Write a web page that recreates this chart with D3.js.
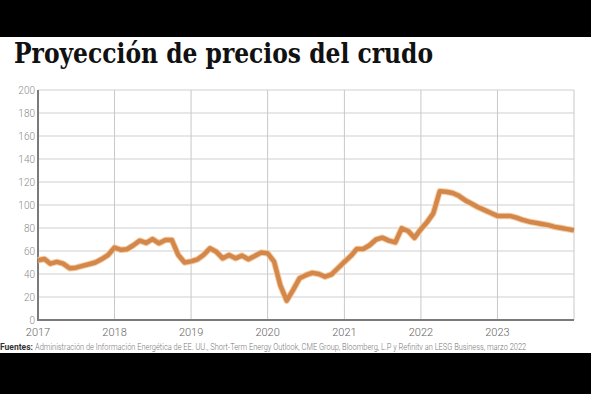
<!DOCTYPE html>
<html>
<head>
<meta charset="utf-8">
<script src="https://cdn.jsdelivr.net/npm/d3@7"></script>
<style>
  body { margin: 0; background: #000; }
  svg { display: block; }
</style>
</head>
<body>
<svg id="chart" width="591" height="394"></svg>
<script>

// monthly price, jan 2017 .. jan 2024 (USD / barril)
var startMonth = new Date(2017, 0, 1)
var prices = [
	52, 53, 49, 50.5, 49, 45, 45.5, 47, 48.5, 50, 53, 56.5,      // 2017
	63, 61, 61.5, 65, 69, 67, 70.4, 66.7, 69.6, 69.6, 56.5, 50,  // 2018
	51, 52.8, 56.5, 62.3, 59.4, 53.6, 56.5, 53.6, 56, 52.8, 55.7, 58.6, // 2019
	58, 50.7, 30.4, 16.8, 26, 36.2, 39, 41, 40, 37.7, 39.7, 45,   // 2020
	50.5, 55.7, 61.7, 61.7, 65, 70, 71.6, 69, 67.5, 79.7, 77.4, 71.5, // 2021
	79, 85.5, 92.7, 112, 111.5, 110.5, 108, 104, 101, 98, 95.5, 93,  // 2022
	90.5, 90.5, 90.5, 89, 87, 85.5, 84.5, 83.5, 82.5, 81, 80, 79,     // 2023
	78                                                               // 2024
]
var yTicks = [0, 20, 40, 60, 80, 100, 120, 140, 160, 180, 200]
var yearTicks = [2017, 2018, 2019, 2020, 2021, 2022, 2023]

var titleText = 'Proyección de precios del crudo'
var sourceLabel = 'Fuentes:'
var sourceText = 'Administración de Información Energética de EE. UU., Short-Term Energy Outlook, CME Group, Bloomberg, L.P y Refinitv an LESG Business, marzo 2022'

var svg = d3.select('#chart')

// white band between the black bars
svg.append('rect')
	.attr('x', 0).attr('y', 37)
	.attr('width', 591).attr('height', 316)
	.attr('fill', '#fff')

var plotLeft = 38, plotRight = 574, plotTop = 90, plotBottom = 320

var data = prices.map(function(v, i) {
	return { date: d3.timeMonth.offset(startMonth, i), value: v }
})

var x = d3.scaleTime()
	.domain([startMonth, new Date(2024, 0, 1)])
	.range([plotLeft, plotRight])

var y = d3.scaleLinear()
	.domain([0, 200])
	.range([plotBottom, plotTop])

// horizontal grid
svg.append('g')
	.selectAll('line')
	.data(yTicks)
	.enter()
	.append('line')
	.attr('x1', plotLeft).attr('x2', plotRight)
	.attr('y1', function(d) { return y(d) }).attr('y2', function(d) { return y(d) })
	.attr('stroke', '#cfcfcf')
	.attr('stroke-width', 1)

// vertical grid
svg.append('g')
	.selectAll('line')
	.data(yearTicks.slice(1).concat([2024]))
	.enter()
	.append('line')
	.attr('x1', function(d) { return x(new Date(d, 0, 1)) })
	.attr('x2', function(d) { return x(new Date(d, 0, 1)) })
	.attr('y1', plotTop).attr('y2', plotBottom)
	.attr('stroke', '#c8c8c8')
	.attr('stroke-width', 1)

// axes lines
svg.append('line')
	.attr('x1', plotLeft).attr('x2', plotLeft)
	.attr('y1', plotTop).attr('y2', plotBottom + 1)
	.attr('stroke', '#7a7a7a').attr('stroke-width', 2)

svg.append('line')
	.attr('x1', plotLeft - 1).attr('x2', plotRight)
	.attr('y1', plotBottom).attr('y2', plotBottom)
	.attr('stroke', '#7a7a7a').attr('stroke-width', 2)

// y labels
svg.append('g')
	.selectAll('text')
	.data(yTicks)
	.enter()
	.append('text')
	.attr('x', 35)
	.attr('y', function(d) { return y(d) + 3.5 })
	.attr('text-anchor', 'end')
	.attr('font-family', 'Roboto')
	.attr('font-weight', 300)
	.attr('font-size', '10px')
	.attr('fill', '#8a8a8a')
	.text(function(d) { return d })

// year labels
svg.append('g')
	.selectAll('text')
	.data(yearTicks)
	.enter()
	.append('text')
	.attr('x', function(d) { return x(new Date(d, 0, 1)) })
	.attr('y', 336)
	.attr('text-anchor', 'middle')
	.attr('font-family', 'Roboto')
	.attr('font-weight', 300)
	.attr('font-size', '11px')
	.attr('fill', '#666')
	.text(function(d) { return d })

// price line
var line = d3.line()
	.x(function(d) { return x(d.date) })
	.y(function(d) { return y(d.value) })

svg.append('path')
	.datum(data)
	.attr('d', line)
	.attr('fill', 'none')
	.attr('stroke', '#f3cfa8')
	.attr('stroke-width', 6.5)
	.attr('stroke-linejoin', 'round')

svg.append('path')
	.datum(data)
	.attr('d', line)
	.attr('fill', 'none')
	.attr('stroke', '#d4874a')
	.attr('stroke-width', 4.5)
	.attr('stroke-linejoin', 'round')

// title
svg.append('text')
	.attr('x', 14)
	.attr('y', 63)
	.attr('font-family', 'DejaVu Serif')
	.attr('font-weight', 'bold')
	.attr('font-size', '28px')
	.attr('fill', '#111')
	.attr('textLength', 419)
	.attr('lengthAdjust', 'spacingAndGlyphs')
	.text(titleText)

// source
svg.append('text')
	.attr('x', 0)
	.attr('y', 350)
	.attr('font-family', 'Roboto')
	.attr('font-weight', 'bold')
	.attr('font-size', '8.5px')
	.attr('fill', '#333')
	.text(sourceLabel)

// squeeze the long source line horizontally so it ends near x=527
var srcText = svg.append('text')
	.attr('x', 0)
	.attr('y', 0)
	.attr('font-family', 'Roboto')
	.attr('font-weight', 300)
	.attr('font-size', '8.5px')
	.attr('fill', '#777')
	.text(sourceText)

var natural = srcText.node().getComputedTextLength()
var sx = 492 / natural
srcText.attr('transform', 'translate(35,350) scale(' + sx + ',1)')

</script>
</body>
</html>
